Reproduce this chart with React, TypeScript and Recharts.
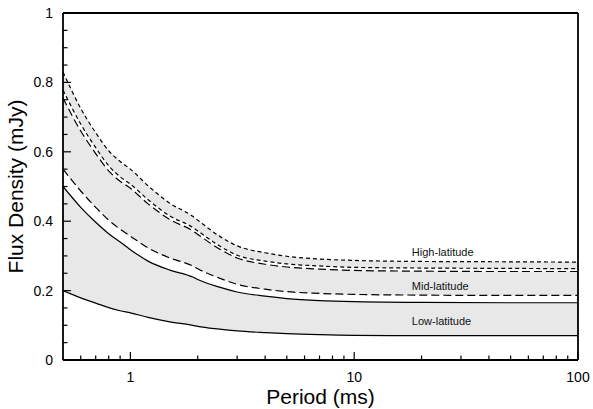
import React from "react";
import {
  ComposedChart,
  Area,
  Line,
  XAxis,
  YAxis,
  ReferenceLine,
  ReferenceDot,
} from "recharts";

// Period (ms)
const periods = [0.5, 0.6, 0.7, 0.8, 0.9, 1, 1.2, 1.5, 1.9, 2, 2.5, 3, 4, 5, 7, 10, 20, 50, 100];
// Low-latitude band (lower / upper, solid)
const lowLower = [0.2, 0.179, 0.164, 0.151, 0.142, 0.136, 0.123, 0.11, 0.1, 0.097, 0.089, 0.084, 0.079, 0.076, 0.073, 0.071, 0.07, 0.07, 0.07];
const lowUpper = [0.5, 0.44, 0.397, 0.364, 0.34, 0.318, 0.285, 0.259, 0.239, 0.232, 0.21, 0.196, 0.184, 0.177, 0.171, 0.168, 0.166, 0.165, 0.165];
// Mid-latitude band (long dashes)
const midLower = [0.55, 0.487, 0.44, 0.403, 0.377, 0.357, 0.323, 0.294, 0.271, 0.263, 0.236, 0.218, 0.204, 0.197, 0.192, 0.189, 0.187, 0.186, 0.186];
const midUpper = [0.755, 0.66, 0.595, 0.545, 0.515, 0.495, 0.45, 0.405, 0.372, 0.362, 0.32, 0.294, 0.276, 0.268, 0.262, 0.258, 0.256, 0.255, 0.255];
// High-latitude band (short dashes)
const highLower = [0.778, 0.68, 0.612, 0.56, 0.528, 0.507, 0.462, 0.415, 0.382, 0.372, 0.329, 0.302, 0.285, 0.277, 0.271, 0.267, 0.265, 0.264, 0.263];
const highUpper = [0.83, 0.725, 0.655, 0.603, 0.572, 0.55, 0.502, 0.452, 0.414, 0.403, 0.357, 0.329, 0.309, 0.299, 0.291, 0.287, 0.284, 0.283, 0.282];

// Axis ticks
const xMajorTicks = [1, 10, 100];
const xMajorLabels = ["1", "10", "100"];
const xMinorTicks = [0.6, 0.7, 0.8, 0.9, 2, 3, 4, 5, 6, 7, 8, 9, 20, 30, 40, 50, 60, 70, 80, 90];
const yMajorTicks = [0, 0.2, 0.4, 0.6, 0.8, 1];
const yMajorLabels = ["0", "0.2", "0.4", "0.6", "0.8", "1"];
const yMinorTicks = [0.05, 0.1, 0.15, 0.25, 0.3, 0.35, 0.45, 0.5, 0.55, 0.65, 0.7, 0.75, 0.85, 0.9, 0.95];

// Band labels
const bandLabels = ["High-latitude", "Mid-latitude", "Low-latitude"];
const bandLabelP = [18.1, 18.1, 18.1];
const bandLabelY = [0.31, 0.213, 0.113];

const data = periods.map((p, i) => ({
  p,
  lowLower: lowLower[i],
  lowUpper: lowUpper[i],
  midLower: midLower[i],
  midUpper: midUpper[i],
  highLower: highLower[i],
  highUpper: highUpper[i],
  lowBand: [lowLower[i], lowUpper[i]],
  midBand: [midLower[i], midUpper[i]],
  highBand: [highLower[i], highUpper[i]],
}));

const FONT = "'Liberation Sans', Arial, Helvetica, sans-serif";

const findIdx = (arr: number[], v: number) => arr.findIndex((a) => Math.abs(a - v) < 1e-9);

const XTick = (props: any) => {
  const { x, y, payload } = props;
  const idx = findIdx(xMajorTicks, payload.value);
  const major = idx >= 0;
  return (
    <g>
      <line x1={x} x2={x} y1={y} y2={y - (major ? 8 : 4.5)} stroke="#000" strokeWidth={1.2} />
      {major && (
        <text x={x} y={y + 22} textAnchor="middle" fontSize={14} fontFamily={FONT} fill="#000">
          {xMajorLabels[idx]}
        </text>
      )}
    </g>
  );
};

const YTick = (props: any) => {
  const { x, y, payload } = props;
  const idx = findIdx(yMajorTicks, payload.value);
  const major = idx >= 0;
  return (
    <g>
      <line x1={x} x2={x + (major ? 8 : 4.5)} y1={y} y2={y} stroke="#000" strokeWidth={1.2} />
      {major && (
        <text x={x - 10} y={y + 5} textAnchor="end" fontSize={14} fontFamily={FONT} fill="#000">
          {yMajorLabels[idx]}
        </text>
      )}
    </g>
  );
};

export default function App() {
  const lineCommon = { type: "monotone" as const, dot: false, isAnimationActive: false, stroke: "#000", strokeWidth: 1.2 };
  return (
    <div style={{ width: 593, height: 409 }}>
      <style>{"html,body{margin:0;padding:0;overflow:hidden;}"}</style>
      <ComposedChart
        width={593}
        height={409}
        data={data}
        margin={{ top: 13, right: 15, bottom: 19, left: 13 }}
        style={{ fontFamily: FONT }}
      >
        <XAxis
          dataKey="p"
          type="number"
          scale="log"
          domain={[0.5, 100]}
          allowDataOverflow
          ticks={[...xMinorTicks, ...xMajorTicks].sort((a, b) => a - b)}
          interval={0}
          tick={XTick}
          tickSize={0}
          tickMargin={0}
          tickLine={false}
          height={30}
          axisLine={{ stroke: "#000", strokeWidth: 1.8 }}
          label={{ value: "Period (ms)", position: "insideBottom", offset: -14, fontSize: 21, fill: "#000", fontFamily: FONT }}
        />
        <YAxis
          type="number"
          domain={[0, 1]}
          allowDataOverflow
          ticks={[...yMinorTicks, ...yMajorTicks].sort((a, b) => a - b)}
          interval={0}
          tick={YTick}
          tickSize={0}
          tickMargin={0}
          tickLine={false}
          width={50}
          axisLine={{ stroke: "#000", strokeWidth: 1.8 }}
          label={{ value: "Flux Density (mJy)", angle: -90, position: "insideLeft", offset: 0, dx: 3, textAnchor: "middle", fontSize: 21, fill: "#000", fontFamily: FONT }}
        />
        <Area dataKey="lowBand" type="monotone" stroke="none" fill="#e8e8e8" fillOpacity={1} isAnimationActive={false} />
        <Area dataKey="midBand" type="monotone" stroke="none" fill="#e8e8e8" fillOpacity={1} isAnimationActive={false} />
        <Area dataKey="highBand" type="monotone" stroke="none" fill="#e8e8e8" fillOpacity={1} isAnimationActive={false} />
        <Line dataKey="lowLower" {...lineCommon} />
        <Line dataKey="lowUpper" {...lineCommon} />
        <Line dataKey="midLower" {...lineCommon} strokeDasharray="8 4" />
        <Line dataKey="midUpper" {...lineCommon} strokeDasharray="8 4" />
        <Line dataKey="highLower" {...lineCommon} strokeDasharray="4 3" />
        <Line dataKey="highUpper" {...lineCommon} strokeDasharray="4 3" />
        <ReferenceLine y={1} stroke="#000" strokeWidth={1.8} />
        <ReferenceLine x={100} stroke="#000" strokeWidth={1.8} />
        {bandLabels.map((t, i) => (
          <ReferenceDot
            key={t}
            x={bandLabelP[i]}
            y={bandLabelY[i]}
            r={0}
            fill="none"
            stroke="none"
            label={{ value: t, position: "right", offset: 0, fontSize: 11, fill: "#111", fontFamily: FONT }}
          />
        ))}
      </ComposedChart>
    </div>
  );
}
